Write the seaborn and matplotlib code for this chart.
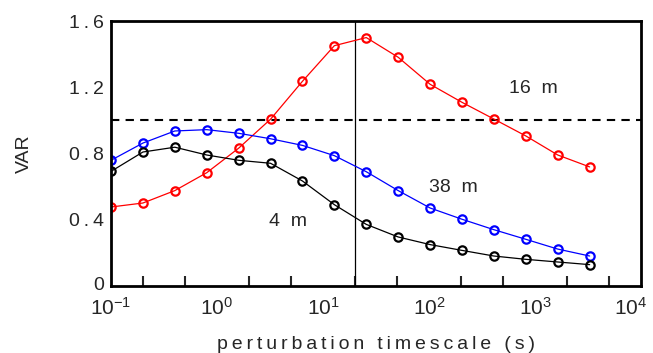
import numpy as np
import pandas as pd
import matplotlib
matplotlib.use("Agg")
import matplotlib.pyplot as plt
import matplotlib.transforms as mtransforms
import seaborn as sns
from matplotlib.ticker import LogLocator, NullFormatter

timescale = [0.1, 0.2, 0.4, 0.8, 1.6, 3.2, 6.4, 12.8, 25.6, 51.2, 102.4, 204.8, 409.6, 819.2, 1638.4, 3276.8]
var_16m = [0.477, 0.501, 0.576, 0.684, 0.832, 1.007, 1.236, 1.451, 1.500, 1.381, 1.218, 1.109, 1.008, 0.906, 0.791, 0.719]
var_38m = [0.759, 0.863, 0.936, 0.944, 0.922, 0.889, 0.849, 0.787, 0.690, 0.576, 0.471, 0.403, 0.340, 0.282, 0.223, 0.181]
var_4m = [0.692, 0.809, 0.838, 0.791, 0.759, 0.741, 0.634, 0.491, 0.372, 0.296, 0.250, 0.215, 0.181, 0.161, 0.145, 0.129]
series_names = ["16 m", "38 m", "4 m"]
series_colors = ["#ff0000", "#0000ff", "#000000"]
y_ticks = [0, 0.4, 0.8, 1.2, 1.6]
y_tick_labels = ["0", "0\u2009.\u20094", "0\u2009.\u20098", "1\u2009.\u20092", "1\u2009.\u20096"]
x_ticks = [1e-1, 1e0, 1e1, 1e2, 1e3, 1e4]
x_tick_labels = [r"$10^{-1}$", r"$10^{0}$", r"$10^{1}$", r"$10^{2}$", r"$10^{3}$", r"$10^{4}$"]
x_label = "perturbation timescale (s)"
y_label = "VAR"

df = pd.DataFrame({
    "t": timescale * 3,
    "var": var_16m + var_38m + var_4m,
    "series": [series_names[0]] * len(timescale) + [series_names[1]] * len(timescale) + [series_names[2]] * len(timescale),
})

sns.set_style("white")
plt.rcParams["font.family"] = ["Liberation Sans", "DejaVu Sans"]
plt.rcParams["mathtext.fontset"] = "custom"
plt.rcParams["mathtext.rm"] = "Liberation Sans"
plt.rcParams["mathtext.it"] = "Liberation Sans"

fig = plt.figure(figsize=(6.53, 3.53), dpi=100)
ax = fig.add_axes([111 / 653, 1 - 286 / 353, (641 - 111) / 653, (286 - 21) / 353])

sns.lineplot(data=df, x="t", y="var", hue="series", palette=dict(zip(series_names, series_colors)),
             marker="o", markersize=6, markerfacecolor="none", markeredgewidth=1.6,
             linewidth=0.9, legend=False, ax=ax, estimator=None, sort=False)
for line, c in zip(ax.get_lines(), series_colors):
    line.set_markeredgecolor(c)

ax.set_xscale("log")
ax.set_xlim(1e-1, 1e4)
ax.set_ylim(0, 1.6)

ax.axhline(1.0, color="black", linestyle=(0, (4, 3)), linewidth=1.5, zorder=1)
ax.axvline(20, color="black", linewidth=0.9, zorder=1)

ax.set_xticks(x_ticks)
ax.set_xticklabels(x_tick_labels, fontsize=15)
ax.xaxis.set_minor_locator(LogLocator(base=10, subs=(2.0, 5.0)))
ax.xaxis.set_minor_formatter(NullFormatter())
ax.set_yticks(y_ticks)
ax.set_yticklabels(y_tick_labels, fontsize=14)

ax.tick_params(axis="both", which="major", direction="in", length=12, width=1.5,
               top=False, right=False, pad=5)
ax.tick_params(axis="x", which="major", pad=8)
ax.tick_params(axis="x", which="minor", direction="in", length=7, width=1.5, top=False, bottom=True)

# nudge the last x tick label so it stays inside the figure
last = ax.get_xticklabels()[-1]
last.set_transform(last.get_transform() + mtransforms.ScaledTranslation(-10 / 100, 0, fig.dpi_scale_trans))
# nudge the "0" y tick label slightly up, as in the reference
zero = ax.get_yticklabels()[0]
zero.set_transform(zero.get_transform() + mtransforms.ScaledTranslation(0, 3 / 100, fig.dpi_scale_trans))

for s in ax.spines.values():
    s.set_linewidth(2)
    s.set_color("black")

ax.set_xlabel("\u2009".join(x_label), fontsize=14, labelpad=12)
ax.set_ylabel(y_label, fontsize=14, labelpad=26)

ax.text(957, 1.193, "16  m", fontsize=14, ha="center", va="center")
ax.text(168, 0.592, "38  m", fontsize=14, ha="center", va="center")
ax.text(4.68, 0.392, "4  m", fontsize=14, ha="center", va="center")

fig.savefig("out.png", dpi=100)
